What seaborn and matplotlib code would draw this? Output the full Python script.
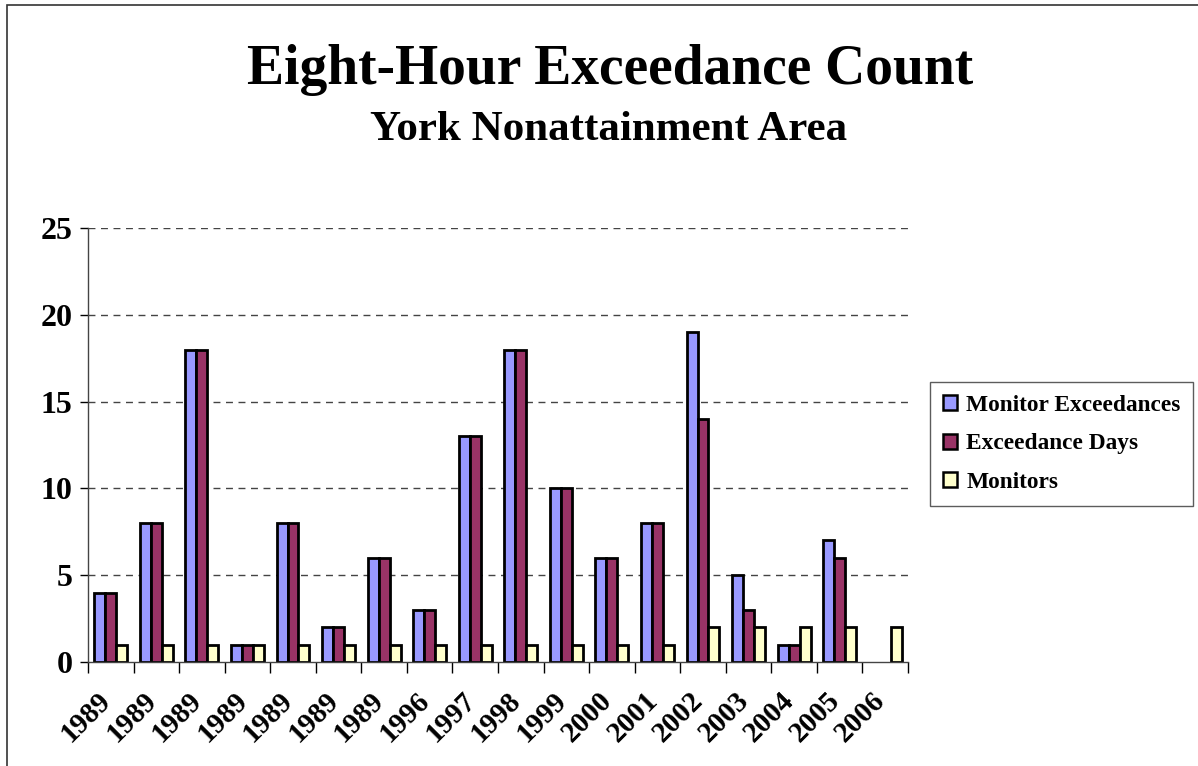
"""Grafico de contagem de excedencias de oito horas - York."""

import matplotlib.pyplot as plt
import matplotlib.patches as mpatches
import numpy as np
import pandas as pd
import seaborn as sns

anos = ["1989", "1989", "1989", "1989", "1989", "1989", "1989", "1996", "1997",
        "1998", "1999", "2000", "2001", "2002", "2003", "2004", "2005", "2006"]
monitor_exceedances = [4, 8, 18, 1, 8, 2, 6, 3, 13, 18, 10, 6, 8, 19, 5, 1, 7, 0]
exceedance_days = [4, 8, 18, 1, 8, 2, 6, 3, 13, 18, 10, 6, 8, 14, 3, 1, 6, 0]
monitors = [1, 1, 1, 1, 1, 1, 1, 1, 1, 1, 1, 1, 1, 2, 2, 2, 2, 2]

series = ["Monitor Exceedances", "Exceedance Days", "Monitors"]
cores = ["#9999FF", "#993366", "#FFFFCC"]

df = pd.DataFrame({
    "slot": list(range(len(anos))) * 3,
    "serie": np.repeat(series, len(anos)),
    "valor": monitor_exceedances + exceedance_days + monitors,
})

sns.set_style("white")
plt.rcParams["font.family"] = ["Liberation Serif", "DejaVu Serif"]
plt.rcParams["font.weight"] = "bold"
plt.rcParams["text.color"] = "black"
plt.rcParams["xtick.color"] = "black"
plt.rcParams["ytick.color"] = "black"

fig = plt.figure(figsize=(11.98, 7.66), dpi=100)
ax = fig.add_axes([88 / 1198, 1 - 662 / 766, 820 / 1198, 434 / 766])

sns.barplot(data=df, x="slot", y="valor", hue="serie", hue_order=series,
            palette=cores, width=0.72, edgecolor="black", linewidth=2,
            saturation=1, ax=ax, legend=False)
# barras de altura zero nao aparecem no original
for p in ax.patches:
    if p.get_height() == 0:
        p.set_visible(False)

ax.set_ylim(0, 25)
ax.set_xlim(-0.5, len(anos) - 0.5)
ax.set_yticks([0, 5, 10, 15, 20, 25])
ax.tick_params(axis="y", labelsize=23, length=6, width=1, direction="out",
               left=True, pad=5)
for v in [5, 10, 15, 20, 25]:
    ax.axhline(v, color="#444444", linestyle=(0, (5, 4)), linewidth=1, zorder=0)

ax.set_xticks(np.arange(-0.5, len(anos), 1.0))
ax.set_xticklabels([])
ax.tick_params(axis="x", which="major", length=8, width=1, bottom=True)
ax.set_xticks(np.arange(len(anos)) - 0.3, minor=True)
ax.set_xticklabels(anos, minor=True, rotation=45, ha="right",
                   rotation_mode="anchor", fontsize=21, fontweight="bold")
ax.tick_params(axis="x", which="minor", length=0, pad=18)

ax.set_xlabel("")
ax.set_ylabel("")
for lado in ["top", "right"]:
    ax.spines[lado].set_visible(False)
for lado in ["left", "bottom"]:
    ax.spines[lado].set_color("#444444")
    ax.spines[lado].set_linewidth(1)

fig.text(0.509, 1 - 70 / 766, "Eight-Hour Exceedance Count", ha="center",
         va="center", fontsize=40, fontweight="bold")
fig.text(0.508, 1 - 130 / 766, "York Nonattainment Area", ha="center",
         va="center", fontsize=31, fontweight="bold")

handles = [mpatches.Patch(facecolor=c, edgecolor="black", linewidth=1.8)
           for c in cores]
leg = fig.legend(handles, series, loc="upper left",
                 bbox_to_anchor=(930 / 1198, 1 - 382 / 766),
                 prop={"size": 16.8, "weight": "bold"}, frameon=True,
                 fancybox=False, edgecolor="#333333", handlelength=0.6,
                 handleheight=0.6, handletextpad=0.4, labelspacing=0.75,
                 borderpad=0.55, borderaxespad=0)
leg.get_frame().set_linewidth(1)

fig.patches.append(mpatches.Rectangle((7 / 1198, -0.1), 1.2, 1 - 5 / 766 + 0.1,
                                      transform=fig.transFigure, fill=False,
                                      edgecolor="#333333", linewidth=1.2))

fig.savefig("out.png", dpi=100)
plt.close(fig)
